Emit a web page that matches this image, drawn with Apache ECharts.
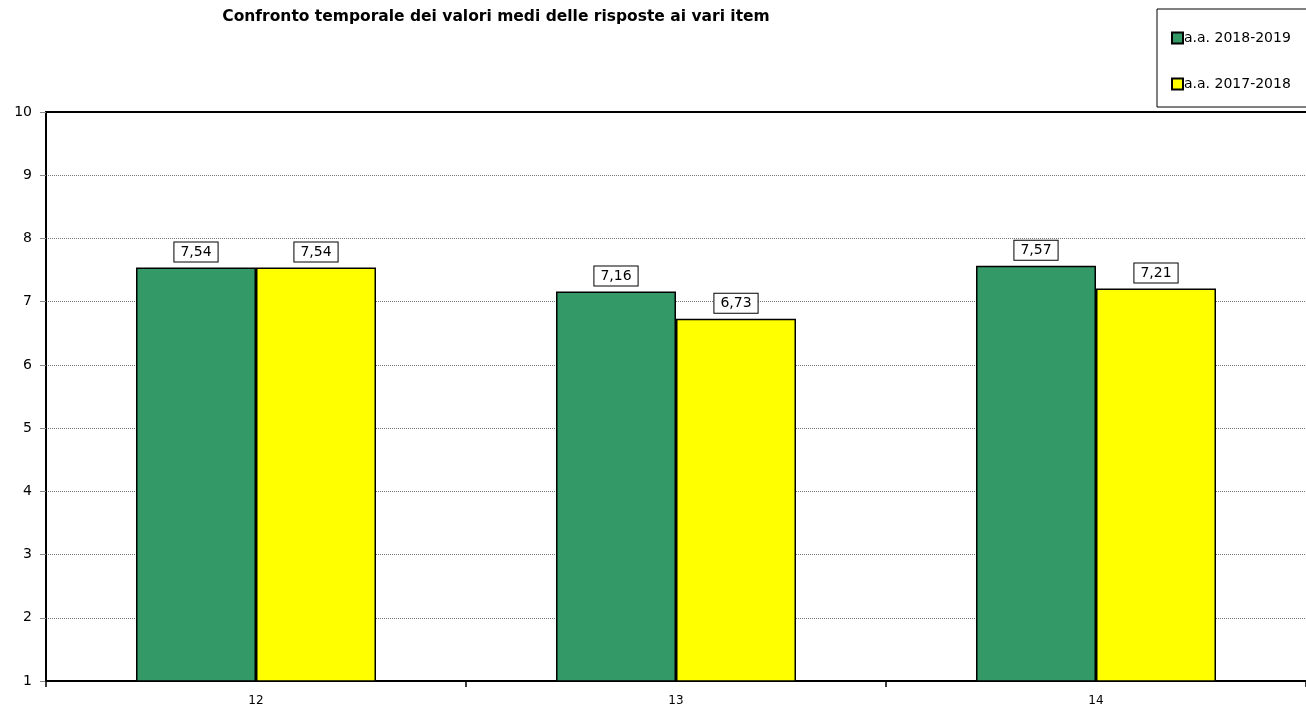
<!DOCTYPE html>
<html><head><meta charset="utf-8">
<script src="https://cdn.jsdelivr.net/npm/echarts@6/dist/echarts.min.js"></script>
<style>html,body{margin:0;padding:0;background:#fff}#c{width:1306px;height:712px}</style>
</head><body><div id="c"></div>
<script>
const categories = ['12', '13', '14'];
const series2019 = [7.54, 7.16, 7.57];
const series2018 = [7.54, 6.73, 7.21];
const seriesNames = ['a.a. 2018-2019', 'a.a. 2017-2018'];
const FONT = "'Comic Sans MS', 'DejaVu Sans', sans-serif";
const chart = echarts.init(document.getElementById('c'));
const lbl = {
  show: true, position: 'top', distance: 6,
  formatter: p => p.value.toFixed(2).replace('.', ','),
  color: '#000', fontFamily: FONT, fontSize: 14,
  backgroundColor: '#fff', borderColor: '#000', borderWidth: 1,
  padding: [3, 6, 2, 6]
};
chart.setOption({
  animation: false,
  title: {
    text: 'Confronto temporale dei valori medi delle risposte ai vari item',
    left: 491, top: 4, textAlign: 'center',
    textStyle: { fontFamily: FONT, fontSize: 15.5, fontWeight: 'bold', color: '#000' }
  },
  graphic: [{
    type: 'rect', shape: { x: 1157, y: 9, width: 160, height: 98 },
    style: { fill: '#fff', stroke: '#000', lineWidth: 1 }, z: 0
  }],
  legend: {
    orient: 'vertical', left: 1166, top: 26, itemGap: 32,
    itemWidth: 11, itemHeight: 11, icon: 'rect',
    textStyle: { fontFamily: FONT, fontSize: 14, color: '#000', padding: [0, 0, 0, -4] },
    data: seriesNames
  },
  grid: { left: 46, right: 0, top: 112, bottom: 31 },
  xAxis: [{
    type: 'category', data: categories,
    axisLine: { lineStyle: { color: '#000', width: 2 } },
    axisTick: { show: true, length: 6, lineStyle: { color: '#000', width: 1.5 } },
    axisLabel: { fontFamily: FONT, fontSize: 12, color: '#000', margin: 14 }
  }, {
    type: 'category', data: categories, position: 'top',
    axisLine: { show: true, lineStyle: { color: '#000', width: 2 } },
    axisTick: { show: false }, axisLabel: { show: false }
  }],
  yAxis: {
    type: 'value', min: 1, max: 10, interval: 1,
    axisLine: { show: true, lineStyle: { color: '#000', width: 2 } },
    axisTick: { show: true, length: 6, lineStyle: { color: '#888' } },
    axisLabel: { fontFamily: FONT, fontSize: 14, color: '#000', margin: 14 },
    splitLine: { show: true, lineStyle: { color: '#777', type: [1, 1], width: 1 } }
  },
  series: [
    { name: seriesNames[0], type: 'bar', data: series2019, barWidth: 120, barGap: '0%',
      itemStyle: { color: '#339966', borderColor: '#000', borderWidth: 1.5 }, label: lbl },
    { name: seriesNames[1], type: 'bar', data: series2018, barWidth: 120,
      itemStyle: { color: '#FFFF00', borderColor: '#000', borderWidth: 1.5 }, label: lbl }
  ]
});
</script></body></html>
